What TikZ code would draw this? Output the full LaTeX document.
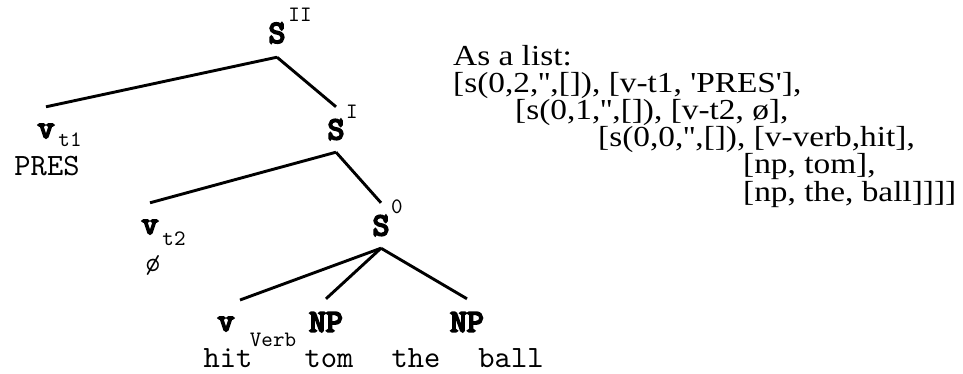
\documentclass[tikz,border=0pt]{standalone}
\usepackage{fontspec}
\newfontfamily\listfont[FakeStretch=1.15]{Liberation Serif}
\newfontfamily\catfont[FakeBold=6]{lmmono10-regular.otf}
\newfontfamily\leaffont{lmmono10-regular.otf}
\begin{document}
\begin{tikzpicture}[x=1pt,y=-1pt,
  edge/.style={line width=2.9pt},
  cat/.style={font=\catfont\fontsize{32}{32}\selectfont, inner sep=0pt},
  leaf/.style={font=\leaffont\fontsize{31}{31}\selectfont, inner sep=0pt, anchor=base},
  idx/.style={font=\leaffont\fontsize{22}{22}\selectfont, inner sep=0pt},
  listline/.style={font=\listfont\fontsize{29}{29}\selectfont, anchor=base west, inner sep=0pt}]
\useasboundingbox (0,0) rectangle (963,374);
% categories
\node[cat, minimum height=48pt] (S2) at (277,33) {S};
\node[cat, minimum height=48pt] (vt1) at (46,131) {v};
\node[cat, minimum height=45pt] (S1) at (336,129.5) {S};
\node[cat, minimum height=48pt] (vt2) at (150,227) {v};
\node[cat, minimum height=45pt] (S0) at (381,225.5) {S};
\node[cat] (vv) at (226,324) {v};
\coordinate (vvtop) at (240,300);
\node[cat, minimum height=46pt] (NP1) at (326,322) {NP};
\node[cat, minimum height=46pt] (NP2) at (467,322) {NP};
% indices
\node[idx] (iII) at (300,15) {II};
\node[idx] (iI) at (352,112) {I};
\node[idx] (i0) at (397,207) {0};
\node[idx] (it1) at (70,140) {t1};
\node[idx] (it2) at (174,239) {t2};
\node[idx] (iVerb) at (273,340) {Verb};
% leaves
\node[leaf] (pres) at (47,176) {PRES};
\node[leaf, font=\leaffont\fontsize{28}{28}\selectfont] (null) at (153,271) {ø};
\node[leaf] (hit) at (228,367) {hit};
\node[leaf] (tom) at (329,367) {tom};
\node[leaf] (the) at (416,367) {the};
\node[leaf] (ball) at (511,367) {ball};
% edges
\draw[edge] (S2.south) -- (vt1.north);
\draw[edge] (S2.south) -- (S1.north);
\draw[edge] (S1.south) -- (vt2.north);
\draw[edge] (S1.south) -- (S0.north);
\draw[edge] (S0.south) -- (vvtop);
\draw[edge] (S0.south) -- (NP1.north);
\draw[edge] (S0.south) -- (NP2.north);
% list
\node[listline] (l1) at (453,66) {As a list:};
\node[listline] (l2) at (453,93) {[s(0,2,'',[]), [v-t1, 'PRES'],};
\node[listline] (l3) at (515,120) {[s(0,1,'',[]), [v-t2, ø],};
\node[listline] (l4) at (598,147) {[s(0,0,'',[]), [v-verb,hit],};
\node[listline] (l5) at (743,174) {[np, tom],};
\node[listline] (l6) at (743,201) {[np, the, ball]]]]};
\end{tikzpicture}
\end{document}
